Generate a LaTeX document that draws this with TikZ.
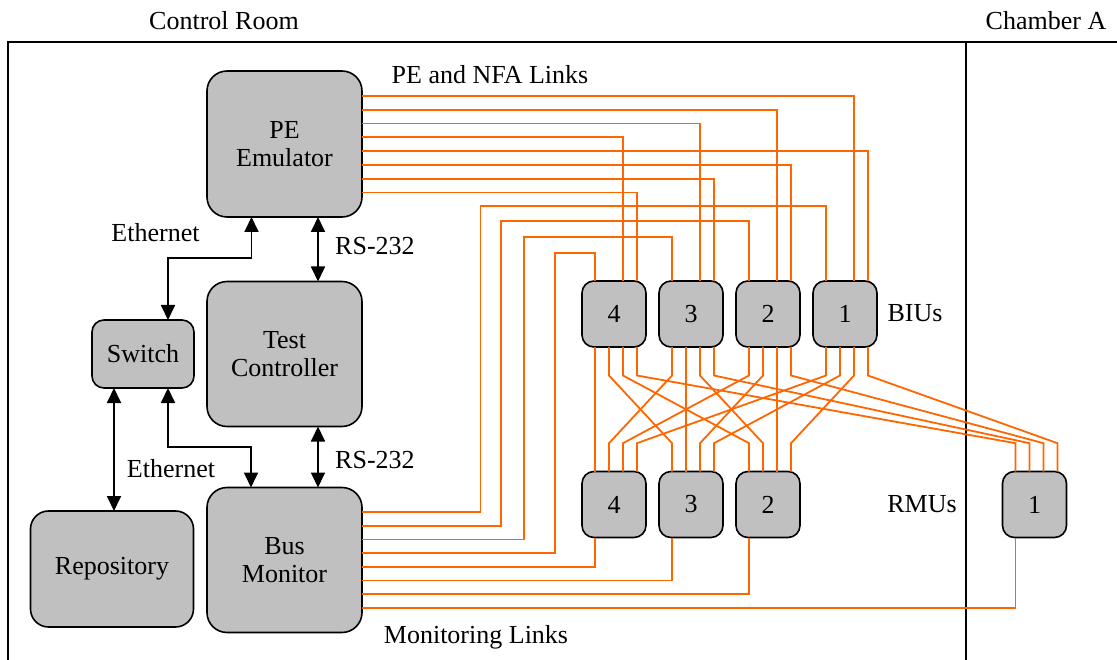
\documentclass[tikz,border=0pt]{standalone}
\usepackage{fontspec}
\setmainfont{Liberation Serif}
\usetikzlibrary{arrows.meta,calc}
\definecolor{boxgray}{RGB}{192,192,192}
\definecolor{linkorange}{RGB}{255,102,0}
\begin{document}
\begin{tikzpicture}[x=1pt,y=-1pt,
    font=\fontsize{26}{27.5}\selectfont,
    block/.style={draw,line width=1.6pt,fill=boxgray,rounded corners=20pt,
      align=center,inner sep=0pt,outer sep=0pt},
    unitbox/.style={draw,line width=1.6pt,fill=boxgray,rounded corners=12pt,
      minimum width=64pt,minimum height=66pt,inner sep=0pt,outer sep=0pt},
    wire/.style={draw=linkorange,line width=1.8pt},
    dbl/.style={line width=1.8pt,
      {Triangle[length=15pt,width=14pt]}-{Triangle[length=15pt,width=14pt]}},
    lbl/.style={inner sep=0pt}]
  \useasboundingbox (0,0) rectangle (1117,660);
  % rooms
  \draw[line width=2pt] (7.5,660) -- (7.5,42) -- (1117,42);
  \draw[line width=2pt] (966,42) -- (966,660);
  \node[lbl] (ctrlroom) at (224,21) {Control Room};
  \node[lbl] (chambera) at (1046,21) {Chamber A};
  % control room equipment
  \node[block,minimum width=155pt,minimum height=146pt] (pe) at (284.5,144) {PE\\Emulator};
  \node[block,minimum width=155pt,minimum height=145pt] (tc) at (284.5,354) {Test\\Controller};
  \node[block,minimum width=155pt,minimum height=145pt] (bm) at (284.5,560) {Bus\\Monitor};
  \node[block,rounded corners=12pt,minimum width=102pt,minimum height=68pt] (sw) at (143,354) {Switch};
  \node[block,rounded corners=18pt,minimum width=163pt,minimum height=116pt] (repo) at (112,569) {Repository};
  % BIUs and RMUs
  \node[unitbox] (biu4) at (614,314) {4};
  \node[unitbox] (biu3) at (691,314) {3};
  \node[unitbox] (biu2) at (768,314) {2};
  \node[unitbox] (biu1) at (845,314) {1};
  \node[unitbox] (rmu4) at (614,504.5) {4};
  \node[unitbox] (rmu3) at (691,504.5) {3};
  \node[unitbox] (rmu2) at (768,504.5) {2};
  \node[unitbox] (rmu1) at (1034.5,504.5) {1};
  \node[lbl] (bius) at (915,313) {BIUs};
  \node[lbl] (rmus) at (922,504) {RMUs};
  % link end points
  \foreach \n in {biu1,biu2,biu3,biu4,rmu1,rmu2,rmu3,rmu4}
    \foreach \s/\dx in {1/13,2/27,3/41,4/55} {
      \coordinate (\n-t\s) at ($(\n.north west)+(\dx,0)$);
      \coordinate (\n-b\s) at ($(\n.south west)+(\dx,0)$);
    }
  \foreach \k in {0,...,7} {
    \coordinate (pe-\k) at ($(pe.north east)+(0,25+13.8*\k)$);
    \coordinate (bm-\k) at ($(bm.north east)+(0,24.5+13.7*\k)$);
  }
  % PE and NFA links
  \foreach \k/\n/\s in {0/1/3,1/2/3,2/3/3,3/4/3,4/1/4,5/2/4,6/3/4,7/4/4}
    \draw[wire] (pe-\k) -| (biu\n-t\s);
  % BIU to RMU mesh
  \foreach \p/\bn in {1/4,2/3,3/2,4/1}
    \foreach \q/\rn in {1/4,2/3,3/2,4/1}
      \draw[wire] (biu\bn-b\q) -- ++(0,28.5) -- ($(rmu\rn-t\p)+(0,-28.3)$) -- (rmu\rn-t\p);
  % monitoring links
  \foreach \k/\bx/\by/\n in {0/480.5/205.7/1,1/501/220.7/2,2/524/236.7/3,3/555/252.7/4}
    \draw[wire] (bm-\k) -| (\bx,\by) -| (biu\n-t1);
  \foreach \k/\n in {4/4,5/3,6/2,7/1}
    \draw[wire] (bm-\k) -| (rmu\n-b1);
  \node[lbl] (pelinks) at (490,75) {PE and NFA Links};
  \node[lbl,anchor=base] (monlinks) at (476,643) {Monitoring Links};
  % ethernet and serial
  \draw[dbl] ([xshift=44.5pt]pe.south west) -- ++(0,41) -| ([xshift=-26pt]sw.north east);
  \draw[dbl] ([xshift=-26pt]sw.south east) -- ++(0,59) -| ([xshift=44pt]bm.north west);
  \draw[dbl] ([xshift=22pt]sw.south west) -- ([xshift=22pt]sw.south west |- repo.north);
  \draw[dbl] ([xshift=-44pt]pe.south east) -- ([xshift=-44pt]tc.north east);
  \draw[dbl] ([xshift=-44pt]tc.south east) -- ([xshift=-44pt]bm.north east);
  \node[lbl] (eth1) at (155.5,233) {Ethernet};
  \node[lbl] (eth2) at (171,469) {Ethernet};
  \node[lbl,anchor=west] (rs1) at (335,246) {RS-232};
  \node[lbl,anchor=west] (rs2) at (335,460) {RS-232};
\end{tikzpicture}
\end{document}
